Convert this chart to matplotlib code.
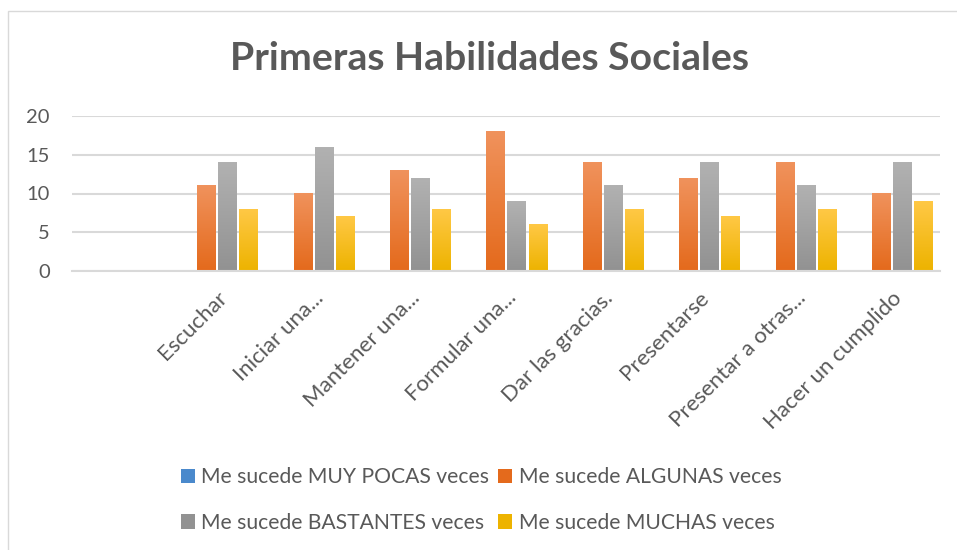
import matplotlib.pyplot as plt
import numpy as np
from matplotlib.colors import LinearSegmentedColormap
from matplotlib.patches import Patch

# datos
categorias = ['Escuchar', 'Iniciar una...', 'Mantener una...', 'Formular una...',
              'Dar las gracias.', 'Presentarse', 'Presentar a otras...', 'Hacer un cumplido']
muy_pocas = [0, 0, 0, 0, 0, 0, 0, 0]
algunas = [11, 10, 13, 18, 14, 12, 14, 10]
bastantes = [14, 16, 12, 9, 11, 14, 11, 14]
muchas = [8, 7, 8, 6, 8, 7, 8, 9]

series = [
    ('Me sucede MUY POCAS veces', muy_pocas, '#7DB0E0', '#4A89CC'),
    ('Me sucede ALGUNAS veces', algunas, '#F0925C', '#E46A1C'),
    ('Me sucede BASTANTES veces', bastantes, '#B1B1B1', '#929292'),
    ('Me sucede MUCHAS veces', muchas, '#FFC845', '#EDB300'),
]

texto = '#595959'
plt.rcParams['font.family'] = ['Lato', 'DejaVu Sans']

fig = plt.figure(figsize=(9.57, 5.5), dpi=100)
ax = fig.add_axes([72 / 957, 1 - 271 / 550, (940 - 72) / 957, (271 - 116) / 550])

# marco del gráfico
fig.patches.append(plt.Rectangle((8 / 957, -0.1), 1.2, 1 - 11 / 550 + 0.1,
                                 transform=fig.transFigure, fill=False,
                                 edgecolor='#D9D9D9', linewidth=1))

x = np.arange(len(categorias))
paso = 0.218
ancho = 0.187
handles = []
for i, (nombre, valores, c_top, c_bot) in enumerate(series):
    pos = x + (i - 1.5) * paso
    barras = ax.bar(pos, valores, ancho, color=c_bot, zorder=3)
    cmap = LinearSegmentedColormap.from_list(nombre, [c_bot, c_top])
    grad = np.linspace(0, 1, 64).reshape(-1, 1)
    for b in barras:
        if b.get_height() <= 0:
            continue
        x0, y0 = b.get_x(), b.get_y()
        ax.imshow(grad, extent=[x0, x0 + b.get_width(), y0, y0 + b.get_height()],
                  origin='lower', aspect='auto', cmap=cmap, zorder=4)
    handles.append(Patch(facecolor=c_bot, label=nombre))

ax.set_xlim(-1.5, 7.5)
ax.set_ylim(0, 20)
ax.set_yticks([0, 5, 10, 15, 20])
ax.yaxis.grid(True, color='#D9D9D9', linewidth=1.5, zorder=0)
ax.set_axisbelow(True)
for lado in ['top', 'right', 'left']:
    ax.spines[lado].set_visible(False)
ax.spines['bottom'].set_color('#D9D9D9')
ax.spines['bottom'].set_linewidth(1.5)
ax.spines['bottom'].set_zorder(5)

ax.set_xticks(x)
ax.set_xticklabels(categorias, rotation=45, ha='right', rotation_mode='anchor',
                   fontsize=16, color=texto)
ax.tick_params(axis='x', length=0, pad=12)
ax.tick_params(axis='y', length=0, pad=16, labelsize=14.5, labelcolor=texto)

fig.text(489 / 957, 1 - 58 / 550, 'Primeras Habilidades Sociales', ha='center',
         va='center', fontsize=28.3, fontweight='bold', color=texto)

# orden por filas como en Excel
orden = [0, 2, 1, 3]
fig.legend(handles=[handles[k] for k in orden], loc='center',
           bbox_to_anchor=(481 / 957, 1 - 500 / 550),
           ncol=2, frameon=False, fontsize=15.2, labelcolor=texto,
           handlelength=0.66, handleheight=0.66, handletextpad=0.3,
           columnspacing=0.45, labelspacing=1.22, borderpad=0)

fig.savefig('out.png', dpi=100)
